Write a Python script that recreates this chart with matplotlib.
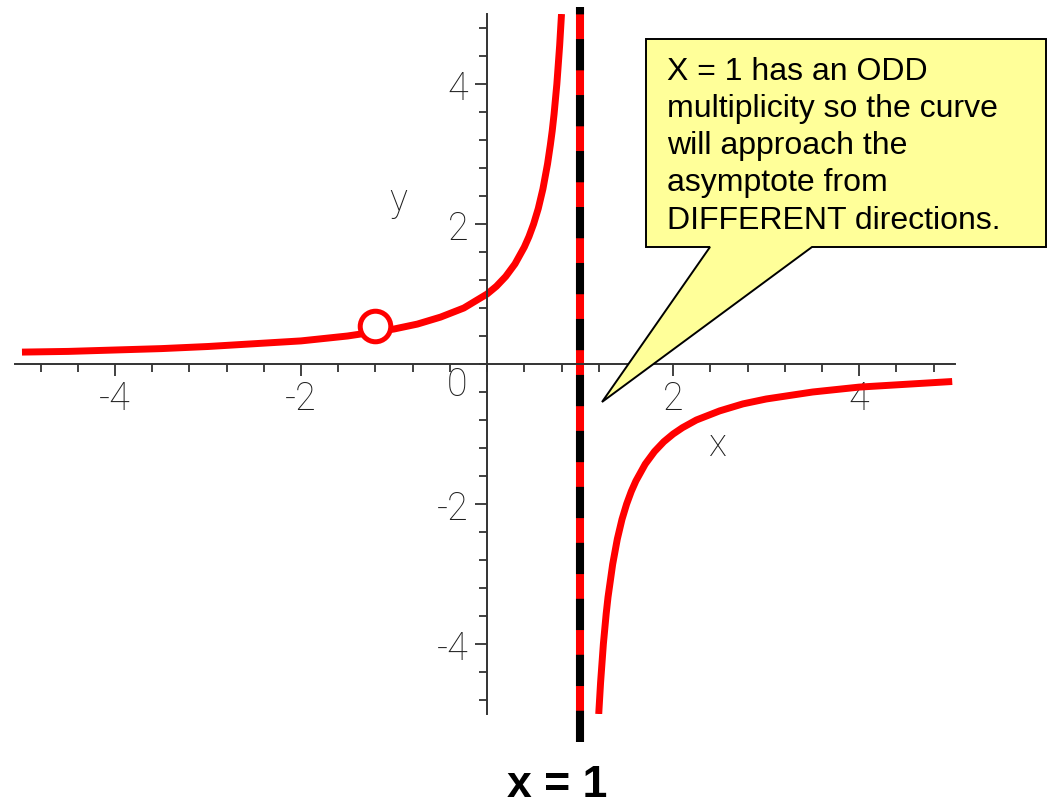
import matplotlib.pyplot as plt
from matplotlib.patches import Polygon
from matplotlib.ticker import MultipleLocator

# y = 1/(1 - x): left and right branches around the vertical asymptote
left_x = [-5, -4.5, -4, -3.5, -3, -2.5, -2, -1.5, -1, -0.75, -0.5, -0.25, 0, 0.1, 0.2, 0.3,
          0.4, 0.45, 0.5, 0.55, 0.6, 0.65, 0.68, 0.7, 0.72, 0.75, 0.78, 0.8]
left_y = [0.17, 0.18, 0.2, 0.22, 0.25, 0.29, 0.33, 0.4, 0.5, 0.57, 0.67, 0.8, 1.0, 1.11, 1.25, 1.43,
          1.67, 1.82, 2.0, 2.22, 2.5, 2.86, 3.13, 3.33, 3.57, 4.0, 4.55, 5.0]
right_x = [1.2, 1.22, 1.25, 1.28, 1.3, 1.35, 1.4, 1.45, 1.5, 1.55, 1.6, 1.7, 1.8, 1.9, 2.0, 2.1,
           2.25, 2.5, 2.75, 3.0, 3.5, 4.0, 4.5, 5.0]
right_y = [-5.0, -4.55, -4.0, -3.57, -3.33, -2.86, -2.5, -2.22, -2.0, -1.82, -1.67, -1.43, -1.25,
           -1.11, -1.0, -0.91, -0.8, -0.67, -0.57, -0.5, -0.4, -0.33, -0.29, -0.25]

hole_x, hole_y = -1.2, 0.54
asymptote_x = 1
asymptote_span = [-5.4, 5.1]
major_ticks = [-4, -2, 2, 4]

note = ("X = 1 has an ODD\nmultiplicity so the curve\nwill approach the\n"
        "asymptote from\nDIFFERENT directions.")

W, H = 1055, 804
plt.rcParams["font.family"] = ["Liberation Sans", "DejaVu Sans"]
plt.rcParams["lines.scale_dashes"] = False

fig = plt.figure(figsize=(W / 100, H / 100), dpi=100)
ax = fig.add_axes([15 / W, 89 / H, 940 / W, 700 / H])
ax.set_xlim(-5.075, 5.03)
ax.set_ylim(-5, 5)

axis_color = "#333333"
for side in ("top", "right"):
    ax.spines[side].set_visible(False)
for side in ("left", "bottom"):
    ax.spines[side].set_position(("data", 0))
    ax.spines[side].set_color(axis_color)
    ax.spines[side].set_linewidth(1.4)

ax.set_xticks(major_ticks)
ax.set_yticks(major_ticks)
ax.xaxis.set_minor_locator(MultipleLocator(0.4))
ax.yaxis.set_minor_locator(MultipleLocator(0.4))
ax.tick_params(which="both", direction="out", color=axis_color, width=1.3)
ax.tick_params(which="major", length=8.5)
ax.tick_params(which="minor", length=5.5)
ax.tick_params(axis="x", pad=3)
ax.tick_params(axis="y", pad=5)
tick_font = dict(family=["Roboto", "DejaVu Sans"], weight="light", size=27, color="#1e1e1e")
ax.set_xticklabels([str(t) for t in major_ticks], fontdict=tick_font)
ax.set_yticklabels([str(t) for t in major_ticks], fontdict=tick_font)
ax.text(-0.32, -0.29, "0", ha="center", va="center", **tick_font)
ax.text(-0.96, 2.36, "y", ha="center", va="center", **tick_font)
ax.text(2.48, -1.14, "x", ha="center", va="center", **tick_font)

# curve branches
ax.plot(left_x, left_y, color="#ff0000", lw=5, solid_capstyle="butt", solid_joinstyle="round")
ax.plot(right_x, right_y, color="#ff0000", lw=5, solid_capstyle="butt", solid_joinstyle="round")

# asymptote: red line with black dashes on top, running past the axes
ax.plot([asymptote_x, asymptote_x], asymptote_span, color="#ff0000", lw=5.8,
        solid_capstyle="butt", clip_on=False)
ax.plot([asymptote_x, asymptote_x], asymptote_span, color="black", lw=5.8,
        dashes=(22.5, 17.8), dash_capstyle="butt", clip_on=False)

# removable discontinuity
ax.plot(hole_x, hole_y, "o", ms=22, mfc="white", mec="#ff0000", mew=3.6, zorder=5)

# speech-bubble callout
def fig_pt(px, py):
    return (px / W, 1 - py / H)

bubble = [fig_pt(646, 40), fig_pt(1046, 40), fig_pt(1046, 248), fig_pt(812, 248),
          fig_pt(602, 403), fig_pt(710, 248), fig_pt(646, 248)]
fig.patches.append(Polygon(bubble, closed=True, transform=fig.transFigure,
                           facecolor="#ffff99", edgecolor="black", lw=1.4, zorder=10))
fig.text(667 / W, 1 - 57 / H, note, ha="left", va="top", fontsize=23,
         linespacing=1.31, color="black", zorder=11)

fig.text(557 / W, 1 - 797 / H, "x = 1", ha="center", va="baseline",
         fontsize=32, fontweight="bold")

fig.savefig("out.png", dpi=100)
